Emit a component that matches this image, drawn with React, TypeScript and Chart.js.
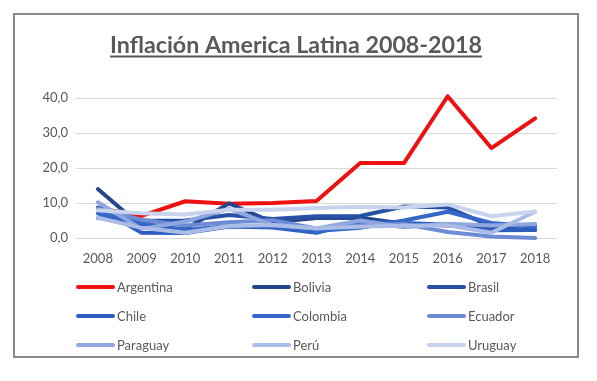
import React, { useEffect, useRef } from "react";
import { Chart, registerables } from "chart.js";

Chart.register(...registerables);

const years = ["2008", "2009", "2010", "2011", "2012", "2013", "2014", "2015", "2016", "2017", "2018"];
const countries = ["Argentina", "Bolivia", "Brasil", "Chile", "Colombia", "Ecuador", "Paraguay", "Perú", "Uruguay"];

const argentina = [8.6, 6.3, 10.5, 9.8, 10.0, 10.6, 21.4, 21.4, 40.5, 25.7, 34.2];
const bolivia = [14.0, 3.3, 2.5, 9.9, 4.5, 5.7, 5.8, 4.1, 3.6, 2.8, 2.3];
const brasil = [5.7, 4.9, 5.0, 6.6, 5.4, 6.2, 6.3, 9.0, 8.7, 3.4, 3.7];
const chile = [8.7, 1.5, 1.4, 3.3, 3.0, 1.5, 4.7, 4.3, 3.8, 2.2, 2.3];
const colombia = [7.0, 4.2, 2.3, 3.4, 3.2, 2.0, 2.9, 5.0, 7.5, 4.3, 3.2];
const ecuador = [8.4, 5.2, 3.6, 4.5, 5.1, 2.7, 3.6, 4.0, 1.7, 0.4, 0.0];
const paraguay = [10.2, 2.6, 4.7, 8.3, 3.7, 2.7, 5.0, 3.1, 4.1, 3.6, 4.0];
const peru = [5.8, 2.9, 1.5, 3.4, 3.7, 2.8, 3.2, 3.6, 3.6, 1.5, 7.5];
const uruguay = [7.9, 7.1, 6.7, 8.1, 8.1, 8.6, 8.9, 8.7, 9.6, 6.2, 7.6];

const seriesValues = [argentina, bolivia, brasil, chile, colombia, ecuador, paraguay, peru, uruguay];
const seriesColors = ["#EE1111", "#24468C", "#2651A6", "#2C5DBF", "#3567C8", "#6E8CD6", "#8FA6DE", "#ABBDE6", "#C8D3EE"];
const yTicks = [0, 10, 20, 30, 40];

const titleText = "Inflación America Latina 2008-2018";
const FONT = "Lato, 'Open Sans', sans-serif";
const TEXT_COLOR = "#595959";

const overlayPlugin = {
  id: "overlay",
  afterDraw(chart: any) {
    const ctx = chart.ctx as CanvasRenderingContext2D;
    ctx.save();
    // Title
    ctx.fillStyle = TEXT_COLOR;
    ctx.strokeStyle = TEXT_COLOR;
    ctx.textBaseline = "alphabetic";
    ctx.textAlign = "left";
    let size = 21;
    ctx.font = `bold ${size}px ${FONT}`;
    const w0 = ctx.measureText(titleText).width;
    size = size * (372 / w0);
    ctx.font = `bold ${size}px ${FONT}`;
    const tw = ctx.measureText(titleText).width;
    const cx = 281;
    const baseY = 38;
    ctx.fillText(titleText, cx - tw / 2, baseY);
    ctx.lineWidth = 2;
    ctx.beginPath();
    ctx.moveTo(cx - tw / 2, baseY + 3.5);
    ctx.lineTo(cx + tw / 2, baseY + 3.5);
    ctx.stroke();

    // Legend
    const colX = [61, 237, 412];
    const rowY = [272, 301, 330];
    ctx.font = `13px ${FONT}`;
    ctx.textBaseline = "middle";
    chart.data.datasets.forEach((ds: any, i: number) => {
      const c = i % 3;
      const r = Math.floor(i / 3);
      const x = colX[c];
      const y = rowY[r];
      ctx.strokeStyle = ds.borderColor;
      ctx.lineWidth = 4;
      ctx.lineCap = "round";
      ctx.beginPath();
      ctx.moveTo(x + 2, y);
      ctx.lineTo(x + 37, y);
      ctx.stroke();
      ctx.fillStyle = TEXT_COLOR;
      ctx.fillText(ds.label, x + 41, y + 1);
    });
    ctx.restore();
  },
};

export default function App() {
  const ref = useRef<HTMLCanvasElement | null>(null);
  useEffect(() => {
    if (!ref.current) return;
    const n = countries.length;
    const chart = new Chart(ref.current, {
      type: "line",
      data: {
        labels: years,
        datasets: countries.map((name, i) => ({
          label: name,
          data: seriesValues[i],
          borderColor: seriesColors[i],
          backgroundColor: seriesColors[i],
          borderWidth: 4,
          pointRadius: 0,
          tension: 0,
          fill: false,
          clip: false as any,
          order: n - 1 - i,
          borderJoinStyle: "round" as const,
          borderCapStyle: "round" as const,
        })),
      },
      options: {
        animation: false,
        responsive: false,
        maintainAspectRatio: false,
        layout: { padding: { left: 0, top: 83, right: 20, bottom: 88 } },
        plugins: {
          legend: { display: false },
          title: { display: false },
          tooltip: { enabled: false },
        },
        scales: {
          x: {
            type: "category",
            offset: true,
            grid: { display: false, drawTicks: false },
            border: { display: false },
            ticks: { color: TEXT_COLOR, font: { family: FONT, size: 13 }, padding: 13, maxRotation: 0 },
            afterFit: (s: any) => {
              s.height = 30;
            },
          },
          y: {
            min: 0,
            max: 40,
            afterBuildTicks: (s: any) => {
              s.ticks = yTicks.map((v) => ({ value: v }));
            },
            grid: { color: "#D9D9D9", lineWidth: 1, drawTicks: false },
            border: { display: false },
            ticks: {
              color: TEXT_COLOR,
              font: { family: FONT, size: 13 },
              padding: 8,
              callback: (v: any) => Number(v).toFixed(1).replace(".", ","),
            },
            afterFit: (s: any) => {
              s.width = 61;
            },
          },
        },
      },
      plugins: [overlayPlugin],
    });
    return () => chart.destroy();
  }, []);

  return (
    <div style={{ position: "absolute", left: 0, top: 0, width: 597, height: 381, background: "#fff" }}>
      <div
        style={{
          position: "absolute",
          left: 13,
          top: 13,
          width: 562,
          height: 341,
          border: "2px solid #8A8A8A",
          background: "#fff",
        }}
      >
        <canvas ref={ref} width={562} height={341} style={{ display: "block", width: 562, height: 341 }} />
      </div>
    </div>
  );
}
